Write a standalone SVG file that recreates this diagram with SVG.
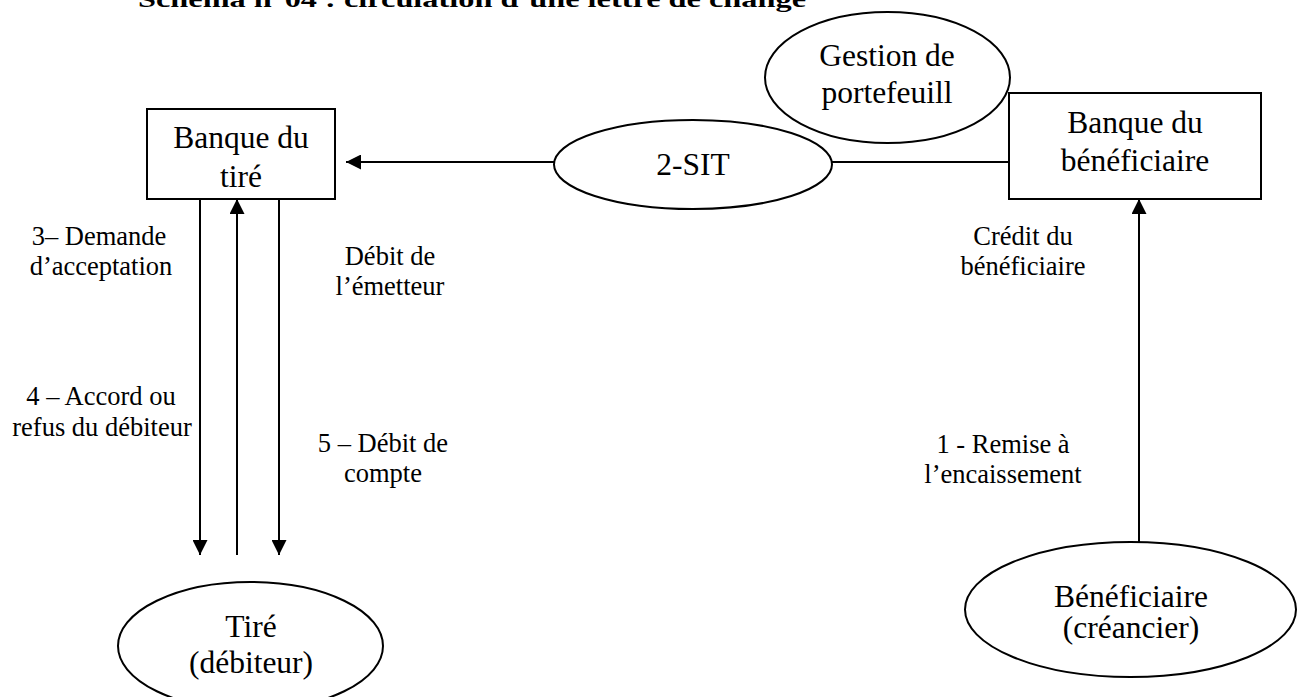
<svg xmlns="http://www.w3.org/2000/svg" width="1297" height="697" viewBox="0 0 1297 697">
<style>
  .shape { fill: #ffffff; stroke: #000000; stroke-width: 2; }
  .edge { fill: none; stroke: #000000; stroke-width: 2; }
  .node { font-family: "Liberation Serif", "Times New Roman", serif; font-size: 31.5px; fill: #000; text-anchor: middle; }
  .lbl { font-family: "Liberation Serif", "Times New Roman", serif; font-size: 26.5px; fill: #000; text-anchor: middle; }
  .title { font-family: "Liberation Serif", "Times New Roman", serif; font-size: 24px; font-weight: bold; fill: #000; }
</style>
<defs>
  <marker id="arrow" markerWidth="15" markerHeight="15" refX="15" refY="7.5" orient="auto" markerUnits="userSpaceOnUse">
    <path d="M0,0 L15,7.5 L0,15 Z" fill="#000"/>
  </marker>
</defs>
<rect width="1297" height="697" fill="#ffffff"/>
<text class="title" x="138" y="7" textLength="668" lengthAdjust="spacingAndGlyphs">Schéma n°04 : circulation d’une lettre de change</text>

<g id="connectors">
  <line class="edge" x1="554" y1="162" x2="346" y2="162" marker-end="url(#arrow)"/>
  <line class="edge" x1="832" y1="162" x2="1009" y2="162"/>
  <line class="edge" x1="200" y1="199" x2="200" y2="555" marker-end="url(#arrow)"/>
  <line class="edge" x1="237" y1="555" x2="237" y2="199" marker-end="url(#arrow)"/>
  <line class="edge" x1="279" y1="199" x2="279" y2="555" marker-end="url(#arrow)"/>
  <line class="edge" x1="1139" y1="542" x2="1139" y2="199" marker-end="url(#arrow)"/>
  <text class="lbl" x="99" y="245">3– Demande</text>
  <text class="lbl" x="101" y="275">d’acceptation</text>
  <text class="lbl" x="390" y="265">Débit de</text>
  <text class="lbl" x="390" y="295">l’émetteur</text>
  <text class="lbl" x="101" y="405">4 – Accord ou</text>
  <text class="lbl" x="102" y="436">refus du débiteur</text>
  <text class="lbl" x="383" y="452">5 – Débit de</text>
  <text class="lbl" x="383" y="482">compte</text>
  <text class="lbl" x="1023" y="245">Crédit du</text>
  <text class="lbl" x="1023" y="275">bénéficiaire</text>
  <text class="lbl" x="1003" y="453">1 - Remise à</text>
  <text class="lbl" x="1003" y="483">l’encaissement</text>
</g>

<g id="banque-tire">
  <rect class="shape" x="147" y="109" width="188" height="90"/>
  <text class="node" x="241" y="148">Banque du</text>
  <text class="node" x="241" y="187">tiré</text>
</g>

<g id="sit">
  <ellipse class="shape" cx="693" cy="164.5" rx="139" ry="44.5"/>
  <text class="node" x="693" y="175">2-SIT</text>
</g>

<g id="gestion">
  <ellipse class="shape" cx="887.5" cy="77.5" rx="122.5" ry="65.5"/>
  <text class="node" x="887" y="66">Gestion de</text>
  <text class="node" x="887" y="103">portefeuill</text>
</g>

<g id="banque-beneficiaire">
  <rect class="shape" x="1009" y="93" width="252" height="106"/>
  <text class="node" x="1135" y="133">Banque du</text>
  <text class="node" x="1135" y="171">bénéficiaire</text>
</g>

<g id="tire">
  <ellipse class="shape" cx="250.5" cy="646" rx="132.5" ry="64"/>
  <text class="node" x="251" y="637">Tiré</text>
  <text class="node" x="251" y="673">(débiteur)</text>
</g>

<g id="beneficiaire">
  <ellipse class="shape" cx="1130.5" cy="609.5" rx="165.5" ry="67.5"/>
  <text class="node" x="1131" y="607">Bénéficiaire</text>
  <text class="node" x="1131" y="638">(créancier)</text>
</g>
</svg>
